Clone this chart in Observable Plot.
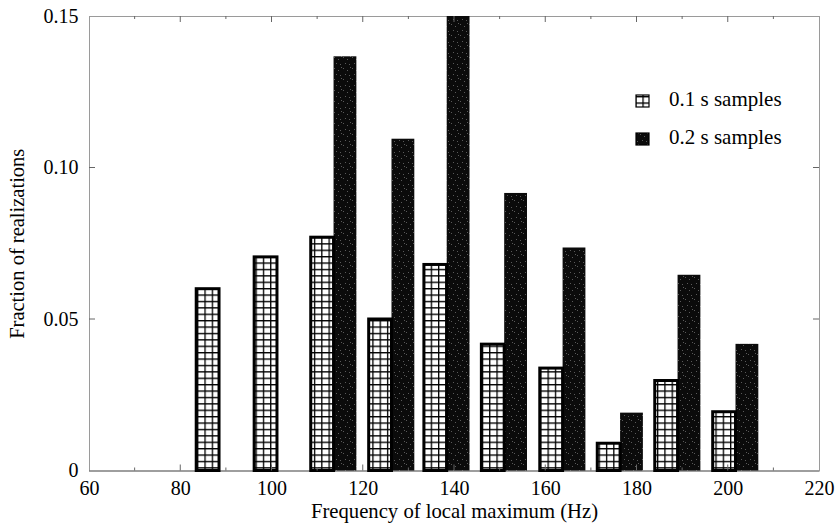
<!DOCTYPE html>
<html>
<head>
<meta charset="utf-8">
<script src="https://cdn.jsdelivr.net/npm/d3@7"></script>
<script src="https://cdn.jsdelivr.net/npm/@observablehq/plot@0.6"></script>
<style>
  body { margin: 0; background: #fff; }
  svg { display: block; }
</style>
</head>
<body>
<div id="chart"></div>
<script>
// Histogram bins: centre frequency of each bin (Hz)
const binCenters = [88.5, 101.2, 113.6, 126.3, 138.4, 151.0, 163.8, 176.4, 189.0, 201.7];
// Fraction of realizations, 0.1 s samples
const frac01 = [0.060, 0.0705, 0.077, 0.050, 0.068, 0.0417, 0.0338, 0.009, 0.0297, 0.0194];
// Fraction of realizations, 0.2 s samples
const frac02 = [0, 0, 0.1367, 0.1095, 0.150, 0.0916, 0.0736, 0.0191, 0.0646, 0.0418];
const seriesNames = ["0.1 s samples", "0.2 s samples"];

const xTicks = [60, 80, 100, 120, 140, 160, 180, 200, 220];
const yTicks = [0, 0.05, 0.10, 0.15];
const yTickLabels = ["0", "0.05", "0.10", "0.15"];
const xTitle = "Frequency of local maximum (Hz)";
const yTitle = "Fraction of realizations";

const barW = 5; // half of a bin pair, in Hz

const short = binCenters.map((f, i) => ({f, v: frac01[i]}));
const long = binCenters.map((f, i) => ({f, v: frac02[i]})).filter(d => d.v > 0);

const serif = "Liberation Serif";

const chart = Plot.plot({
  width: 839,
  height: 529,
  marginLeft: 89,
  marginRight: 20,
  marginTop: 16,
  marginBottom: 58.5,
  style: {fontFamily: serif, fontSize: "20px", color: "#000", background: "#fff"},
  x: {domain: [60, 220]},
  y: {domain: [0, 0.15]},
  marks: [
    Plot.frame({stroke: "#9a9a9a", strokeWidth: 1}),
    Plot.ruleY([0], {stroke: "#707070", strokeWidth: 1.2}),
    Plot.rect(long, {x1: "f", x2: d => d.f + barW, y1: 0, y2: "v", fill: "url(#speckle)"}),
    Plot.rect(short, {x1: d => d.f - barW, x2: "f", y1: 0, y2: "v", fill: "url(#grid)", stroke: "#000", strokeWidth: 3}),
    Plot.axisX({ticks: xTicks, tickSize: 0, tickPadding: 9.5, fontSize: 20, fontFamily: serif,
                fontVariant: "normal", label: null, tickFormat: d => String(d)}),
    Plot.axisY({ticks: yTicks, tickSize: 0, tickPadding: 11, fontSize: 20, fontFamily: serif,
                fontVariant: "normal", label: null, tickFormat: d => yTickLabels[yTicks.indexOf(d)]}),
    Plot.text([xTitle], {frameAnchor: "bottom", dy: 47, fontSize: 20.7, fontFamily: serif, fill: "#000"}),
    Plot.text([yTitle], {frameAnchor: "left", textAnchor: "middle", dx: -72, rotate: -90,
                         fontSize: 20.5, fontFamily: serif, fill: "#000"})
  ]
});

const svg = d3.select(chart);
const defs = svg.insert("defs", ":first-child");

// Grid hatch for the 0.1 s bars
const grid = defs.append("pattern").attr("id", "grid")
  .attr("patternUnits", "userSpaceOnUse").attr("width", 7.3).attr("height", 6.4);
grid.append("rect").attr("width", 7.3).attr("height", 6.4).attr("fill", "#fff");
grid.append("path").attr("d", "M0,0.6H7.3M0.6,0V6.4").attr("stroke", "#000").attr("stroke-width", 1.4);

// Near-black grainy fill for the 0.2 s bars
const speck = defs.append("pattern").attr("id", "speckle")
  .attr("patternUnits", "userSpaceOnUse").attr("width", 9).attr("height", 11);
speck.append("rect").attr("width", 9).attr("height", 11).attr("fill", "#0b0b0b");
[[1, 2], [5, 4], [3, 8], [7, 9], [8, 1]].forEach(([px, py]) =>
  speck.append("rect").attr("x", px).attr("y", py).attr("width", 1).attr("height", 1).attr("fill", "#5a5a5a"));

// Inward tick marks on the frame
const sx = chart.scale("x"), sy = chart.scale("y");
const y0 = sy.apply(0), yTop = sy.apply(0.15);
const x0 = sx.apply(60), xEnd = sx.apply(220);
const ticksG = svg.append("g").attr("stroke", "#666").attr("stroke-width", 1);
d3.range(70, 220, 10).forEach(v => {
  const len = v % 20 === 0 ? 6 : 3;
  const px = sx.apply(v);
  ticksG.append("line").attr("x1", px).attr("x2", px).attr("y1", y0).attr("y2", y0 - len);
  ticksG.append("line").attr("x1", px).attr("x2", px).attr("y1", yTop).attr("y2", yTop + len);
});
yTicks.slice(1, -1).forEach(v => {
  const py = sy.apply(v);
  ticksG.append("line").attr("x1", x0).attr("x2", x0 + 6).attr("y1", py).attr("y2", py);
  ticksG.append("line").attr("x1", xEnd).attr("x2", xEnd - 6).attr("y1", py).attr("y2", py);
});

// Legend
const legend = svg.append("g").attr("font-family", serif).attr("font-size", 21)
  .attr("text-anchor", "start");
const swatches = ["url(#grid)", "url(#speckle)"];
seriesNames.forEach((name, i) => {
  const top = 95 + i * 38;
  legend.append("rect").attr("x", 636).attr("y", top).attr("width", 13).attr("height", 12)
    .attr("fill", swatches[i]).attr("stroke", "#000").attr("stroke-width", 1.2);
  legend.append("text").attr("x", 669).attr("y", top + 11).attr("fill", "#000").text(name);
});

document.getElementById("chart").appendChild(chart);
</script>
</body>
</html>
